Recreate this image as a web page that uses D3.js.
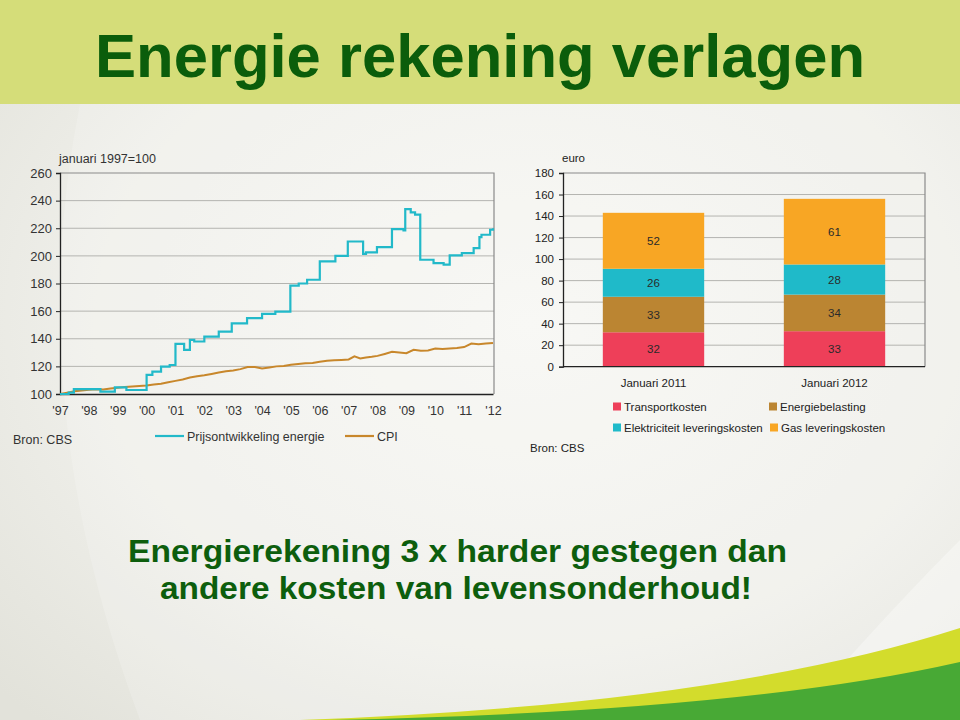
<!DOCTYPE html>
<html><head><meta charset="utf-8">
<script src="https://cdn.jsdelivr.net/npm/d3@7"></script>
<style>html,body{margin:0;padding:0;overflow:hidden;background:#ecece6}</style>
</head><body>
<script>
// ---------- data ----------
const yearTicks = [1997,1998,1999,2000,2001,2002,2003,2004,2005,2006,2007,2008,2009,2010,2011,2012];
const yearLabels = ["'97","'98","'99","'00","'01","'02","'03","'04","'05","'06","'07","'08","'09","'10","'11","'12"];
const indexTicks = [100,120,140,160,180,200,220,240,260];
// energy price index (step changes) [year, index]
const energyYears = [1997.0,1997.3,1997.48,1998.4,1998.9,1999.3,2000.0,2000.2,2000.5,2000.8,2001.0,2001.3,2001.5,2001.65,2002.0,2002.5,2002.95,2003.48,2004.0,2004.46,2004.98,2005.27,2005.56,2006.0,2006.54,2006.97,2007.5,2007.6,2007.98,2008.5,2008.9,2008.96,2009.15,2009.3,2009.48,2009.94,2010.29,2010.5,2010.92,2011.33,2011.53,2011.6,2011.9,2012.0];
const energyValues = [100,101,103.6,101.7,104.8,102.9,113.8,116.2,119.8,121,136.3,131.9,139.2,138,141.6,145.2,151.2,154.9,158,159.7,178.5,180,182.7,196,200,210.4,201.5,202.5,206.3,219.4,218.5,233.9,231.5,229.8,197.2,194.8,193.6,200.3,202,205.6,213.6,215.3,218.9,220];
// CPI [year, index]
const cpiYears = [1997.0,1997.25,1997.5,1997.75,1998.0,1998.25,1998.5,1998.75,1999.0,1999.25,1999.5,1999.75,2000.0,2000.25,2000.5,2000.75,2001.0,2001.25,2001.5,2001.75,2002.0,2002.25,2002.5,2002.75,2003.0,2003.25,2003.5,2003.75,2004.0,2004.25,2004.5,2004.75,2005.0,2005.25,2005.5,2005.75,2006.0,2006.25,2006.5,2006.75,2007.0,2007.2,2007.4,2007.6,2007.8,2008.0,2008.25,2008.5,2008.75,2009.0,2009.25,2009.5,2009.75,2010.0,2010.25,2010.5,2010.75,2011.0,2011.25,2011.5,2011.75,2012.0];
const cpiValues = [100,101,102,102.5,103,103.5,103.2,104,104.5,105,105.5,105.8,106.2,106.8,107.5,108.5,109.5,110.5,112,112.8,113.5,114.5,115.5,116.5,117,118,119.5,119.5,118.5,119.2,120,120.2,121.2,121.8,122.3,122.5,123.3,124,124.5,124.7,125,127.3,125.8,126.5,127,127.6,129,130.5,130,129.5,132,131.3,131.5,133,132.5,133,133.3,134,136.5,136,136.5,137];
const lineSeries = ["Prijsontwikkeling energie","CPI"];

// stacked bars
const barCategories = ["Januari 2011","Januari 2012"];
const barSeries = ["Transportkosten","Energiebelasting","Elektriciteit leveringskosten","Gas leveringskosten"];
const transport = [32,33];
const energiebelasting = [33,34];
const elektriciteit = [26,28];
const gas = [52,61];
const euroTicks = [0,20,40,60,80,100,120,140,160,180];

// ---------- drawing ----------
const W=960,H=720;
const svg=d3.select("body").append("svg").attr("width",W).attr("height",H);
const defs=svg.append("defs");
const rg=defs.append("radialGradient").attr("id","bg").attr("cx","55%").attr("cy","45%").attr("r","75%");
rg.append("stop").attr("offset","0%").attr("stop-color","#f7f7f3");
rg.append("stop").attr("offset","60%").attr("stop-color","#efefea");
rg.append("stop").attr("offset","100%").attr("stop-color","#e2e2da");
svg.append("rect").attr("width",W).attr("height",H).attr("fill","url(#bg)");
// subtle curve sheens
svg.append("path").attr("d","M 80 104 Q 20 400 140 720 L 960 720 L 960 104 Z").attr("fill","#ffffff").attr("opacity",0.18);
svg.append("path").attr("d","M 960 540 Q 900 600 820 690 L 960 690 Z").attr("fill","#ffffff").attr("opacity",0.35);

// header band
svg.append("rect").attr("width",W).attr("height",104).attr("fill","#d5dd79");
svg.append("text").attr("x",95).attr("y",77).attr("font-family","'Liberation Sans Narrow','Liberation Sans',Arial,sans-serif")
  .attr("font-weight","bold").attr("font-size",62).attr("fill","#0b5d0b")
  .attr("textLength",770).attr("lengthAdjust","spacingAndGlyphs").text("Energie rekening verlagen");

// swoosh
svg.append("path").attr("d","M 300 720 Q 720 705 960 628 L 960 720 Z").attr("fill","#d3dc2c");
svg.append("path").attr("d","M 330 720 Q 740 712 960 662 L 960 720 Z").attr("fill","#48a935");

const font="'Liberation Sans',Arial,sans-serif";

// ---------- left line chart ----------
const L={x0:60,x1:494,y0:173,y1:394};
const x=d3.scaleLinear().domain([1997,2012]).range([L.x0,L.x1-1]);
const y=d3.scaleLinear().domain([100,260]).range([L.y1,L.y0]);
const g1=svg.append("g");
g1.append("g").selectAll("line").data(indexTicks.slice(1,-1)).join("line")
  .attr("x1",L.x0).attr("x2",L.x1).attr("y1",d=>y(d)).attr("y2",d=>y(d)).attr("stroke","#b4b4b0").attr("stroke-width",1);
g1.append("path").attr("d",`M${L.x0},${L.y0}H${L.x1}V${L.y1}`).attr("fill","none").attr("stroke","#8a8a8a").attr("stroke-width",1.2);
const yAx=g1.append("g").attr("transform",`translate(${L.x0},0)`).call(d3.axisLeft(y).tickValues(indexTicks).tickSize(4).tickPadding(4));
const xAx=g1.append("g").attr("transform",`translate(0,${L.y1})`).call(d3.axisBottom(x).tickValues(yearTicks).tickSize(0).tickPadding(12).tickFormat((d,i)=>yearLabels[i]));
[yAx,xAx].forEach(a=>{a.selectAll("text").attr("font-family",font).attr("font-size",12.5).attr("fill","#333");a.select(".domain").attr("stroke","#222").attr("stroke-width",1.3);a.selectAll(".tick line").attr("stroke","#222");});
yAx.selectAll("text").attr("font-size",13);
const lineGen=d3.line().x(d=>x(d[0])).y(d=>y(d[1]));
const cpiData=cpiYears.map((t,i)=>[t,cpiValues[i]]);
const enData=energyYears.map((t,i)=>[t,energyValues[i]]);
g1.append("path").datum(cpiData).attr("d",lineGen).attr("fill","none").attr("stroke","#c8872b").attr("stroke-width",2);
g1.append("path").datum(enData).attr("d",lineGen.curve(d3.curveStepAfter)).attr("fill","none").attr("stroke","#22b9c9").attr("stroke-width",2.2);
g1.append("text").attr("x",59).attr("y",163).attr("font-family",font).attr("font-size",12.5).attr("fill","#333").text("januari 1997=100");
g1.append("text").attr("x",13).attr("y",444).attr("font-family",font).attr("font-size",12.5).attr("fill","#333").text("Bron: CBS");
const lg=[{c:"#22b9c9",x:155,t:lineSeries[0]},{c:"#c8872b",x:345,t:lineSeries[1]}];
lg.forEach(d=>{
  g1.append("line").attr("x1",d.x).attr("x2",d.x+29).attr("y1",436).attr("y2",436).attr("stroke",d.c).attr("stroke-width",2.2);
  g1.append("text").attr("x",d.x+32).attr("y",440.5).attr("font-family",font).attr("font-size",12.5).attr("fill","#333").text(d.t);
});

// ---------- right stacked bar chart ----------
const R={x0:563,x1:925,y0:173,y1:366.7};
const xb=d3.scaleBand().domain(barCategories).range([R.x0,R.x1]).paddingInner(0.44).paddingOuter(0.22);
const yb=d3.scaleLinear().domain([0,180]).range([R.y1,R.y0]);
const g2=svg.append("g");
g2.append("g").selectAll("line").data(euroTicks.slice(1,-1)).join("line")
  .attr("x1",R.x0).attr("x2",R.x1).attr("y1",d=>yb(d)).attr("y2",d=>yb(d)).attr("stroke","#b4b4b0");
g2.append("path").attr("d",`M${R.x0},${R.y0}H${R.x1}V${R.y1}`).attr("fill","none").attr("stroke","#8a8a8a").attr("stroke-width",1.2);
const rows=barCategories.map((c,i)=>({cat:c,[barSeries[0]]:transport[i],[barSeries[1]]:energiebelasting[i],[barSeries[2]]:elektriciteit[i],[barSeries[3]]:gas[i]}));
const stack=d3.stack().keys(barSeries)(rows);
const colors=d3.scaleOrdinal().domain(barSeries).range(["#ee3f59","#bb8532","#1fbac9","#f8a624"]);
stack.forEach(s=>{
  const gg=g2.append("g");
  gg.selectAll("rect").data(s).join("rect").attr("x",d=>xb(d.data.cat)).attr("width",xb.bandwidth())
    .attr("y",d=>yb(d[1])).attr("height",d=>yb(d[0])-yb(d[1])).attr("fill",colors(s.key));
  gg.selectAll("text").data(s).join("text").attr("x",d=>xb(d.data.cat)+xb.bandwidth()/2).attr("y",d=>(yb(d[0])+yb(d[1]))/2+4)
    .attr("text-anchor","middle").attr("font-family",font).attr("font-size",11.5).attr("fill","#2a2a2a").text(d=>d[1]-d[0]);
});
const yAx2=g2.append("g").attr("transform",`translate(${R.x0},0)`).call(d3.axisLeft(yb).tickValues(euroTicks).tickSize(4).tickPadding(5));
const xAx2=g2.append("g").attr("transform",`translate(0,${R.y1})`).call(d3.axisBottom(xb).tickSize(0).tickPadding(12));
[yAx2,xAx2].forEach(a=>{a.selectAll("text").attr("font-family",font).attr("font-size",11.5).attr("fill","#222");a.select(".domain").attr("stroke","#222").attr("stroke-width",1.3);a.selectAll(".tick line").attr("stroke","#222");});
xAx2.select(".domain").attr("d",`M${R.x0},0H${R.x1}`);
g2.append("text").attr("x",562).attr("y",162).attr("font-family",font).attr("font-size",11.5).attr("fill","#222").text("euro");
g2.append("text").attr("x",530).attr("y",452).attr("font-family",font).attr("font-size",11.5).attr("fill","#222").text("Bron: CBS");
const lpos=[[613,407],[769,407],[613,428],[770,428]];
barSeries.forEach((s,i)=>{
  g2.append("rect").attr("x",lpos[i][0]).attr("y",lpos[i][1]-4.5).attr("width",8).attr("height",8).attr("fill",colors(s));
  g2.append("text").attr("x",lpos[i][0]+11).attr("y",lpos[i][1]+4).attr("font-family",font).attr("font-size",11.5).attr("fill","#222").text(s);
});

// subtitle
const st=svg.append("g").attr("font-family",font).attr("font-weight","bold").attr("font-size",31).attr("fill","#0d5e0d");
st.append("text").attr("x",128).attr("y",562).attr("textLength",659).attr("lengthAdjust","spacingAndGlyphs").text("Energierekening 3 x harder gestegen dan");
st.append("text").attr("x",160).attr("y",599).attr("textLength",592).attr("lengthAdjust","spacingAndGlyphs").text("andere kosten van levensonderhoud!");
</script>
</body></html>
